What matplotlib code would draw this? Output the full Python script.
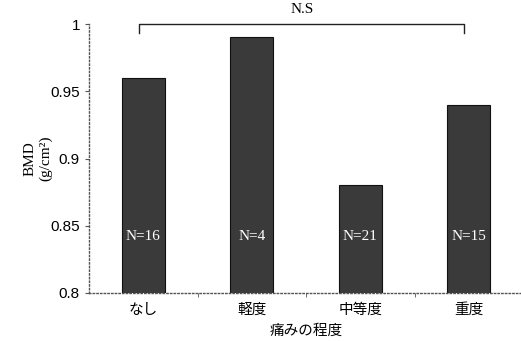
import matplotlib
matplotlib.use("Agg")
import matplotlib.pyplot as plt
import numpy as np

plt.rcParams['font.family'] = ['Liberation Sans', 'Noto Sans CJK JP', 'DejaVu Sans']

categories = ["なし", "軽度", "中等度", "重度"]
bmd = [0.96, 0.99, 0.88, 0.94]
n_labels = ["N=16", "N=4", "N=21", "N=15"]

fig = plt.figure(figsize=(5.21, 3.41), dpi=100)
ax = fig.add_axes([89 / 521, 48 / 341, 434 / 521, 269 / 341])

x = np.arange(len(categories))
ax.bar(x, np.array(bmd) - 0.8, bottom=0.8, width=0.4, color="#3a3a3a",
       edgecolor="#111111", linewidth=0.8)

for xi, lab in zip(x, n_labels):
    ax.text(xi, 0.842, lab, color="white", ha="center", va="center",
            fontsize=11, family="Liberation Serif")

ax.set_xlim(-0.5, 3.5)
ax.set_ylim(0.8, 1.0)
ax.set_yticks([0.8, 0.85, 0.9, 0.95, 1.0])
ax.set_yticklabels(["0.8", "0.85", "0.9", "0.95", "1"], fontsize=11)
ax.set_xticks(x)
ax.set_xticklabels(categories, fontsize=10.5, family="Noto Sans CJK JP")
ax.set_xticks([0.5, 1.5, 2.5], minor=True)
ax.tick_params(axis="x", which="major", length=0, pad=7)
ax.tick_params(axis="x", which="minor", length=3, color="#555555")
ax.tick_params(axis="y", length=3, color="#555555")

for s in ["top", "right"]:
    ax.spines[s].set_visible(False)
for s in ["left", "bottom"]:
    ax.spines[s].set_linestyle(":")
    ax.spines[s].set_color("#555555")
    ax.spines[s].set_linewidth(1.0)

ax.set_xlabel("痛みの程度", fontsize=10.5, family="Noto Sans CJK JP", labelpad=5)
ax.set_ylabel("BMD\n(g/cm²)", fontsize=11, family="Liberation Serif")
ax.yaxis.set_label_coords(-0.085, 0.5)

# significance bracket
bx0, bx1, by = -0.04, 2.96, 1.0
ax.plot([bx0, bx0, bx1, bx1], [0.993, by, by, 0.993], color="#222222",
        linewidth=1.0, clip_on=False)
ax.text((bx0 + bx1) / 2, 1.006, "N.S", ha="center", va="bottom",
        fontsize=11, family="Liberation Serif")

fig.savefig("out.png", dpi=100)
